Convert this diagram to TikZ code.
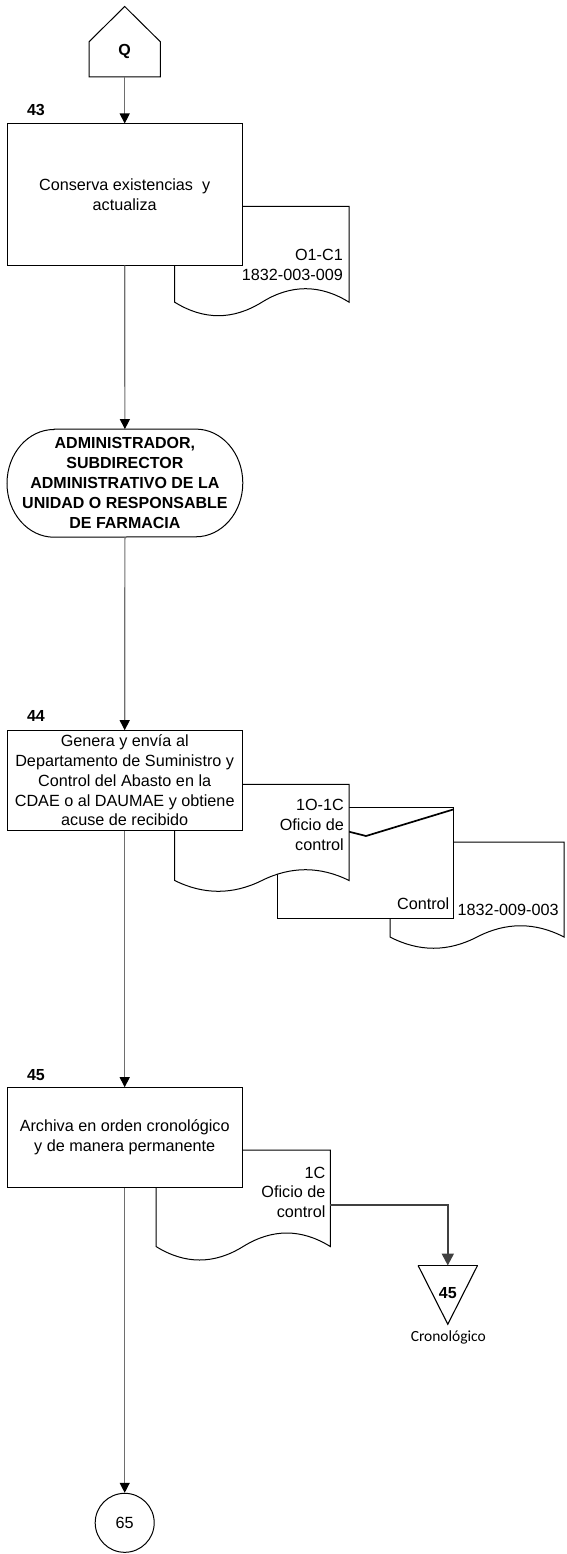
\documentclass[tikz,border=0pt]{standalone}
\usepackage{fontspec}
\setmainfont{Liberation Sans}
\newfontfamily\cronofont{Carlito}
\usetikzlibrary{arrows.meta}

% document symbol with a wavy lower edge: x0, top, x1, wave base line, wave height
\newcommand\docshape[5]{%
  \path[docline] (#1,#2) -- (#3,#2) -- (#3,#4)
    .. controls ({#3-(#3-#1)/6},{#4-0.6*#5}) and ({#1+2*(#3-#1)/3},{#4-0.6*#5}) .. ({(#1+#3)/2},#4)
    .. controls ({#1+(#3-#1)/3},{#4+0.6*#5}) and ({#1+(#3-#1)/6},{#4+0.6*#5}) .. (#1,#4) -- cycle;}

\definecolor{flowgray}{HTML}{6E6E6E}
\definecolor{darkflow}{HTML}{404040}

\tikzset{
  procbox/.style={draw=black, fill=white, line width=1pt, minimum width=234.8pt,
    align=center, inner sep=1pt},
  docline/.style={draw=black, fill=white, line width=1pt},
  doctext/.style={anchor=east, align=right, inner sep=0pt},
  stepnum/.style={font=\bfseries\fontsize{16}{19}\selectfont, inner sep=0pt},
  flow/.style={draw=flowgray, line width=1.2pt, -{Triangle[width=10pt,length=10pt,black]}},
  flowdark/.style={draw=darkflow, line width=2pt, -{Triangle[width=12pt,length=12pt,darkflow]}},
  ghost/.style={draw=none, inner sep=0pt},
}

\begin{document}
\begin{tikzpicture}[x=1pt, y=-1pt, font=\fontsize{16.2}{19.8}\selectfont]
\useasboundingbox (0,0) rectangle (566,1554);

% off-page connector Q
\node[ghost, minimum width=70.8pt, minimum height=70pt] (q) at (124.7,41.7) {};
\draw[line width=1pt, fill=white] (q.south west) -- (q.south east) -- (q.east) -- (q.north) -- (q.west) -- cycle;
\node[font=\bfseries\fontsize{16}{19}\selectfont, inner sep=0pt] (qtxt) at (124.7,51) {Q};

% step 43
\node[stepnum] (n43) at (36,110) {43};
\docshape{174.7}{206.3}{349.1}{302.2}{30}
\node[doctext] (d43) at (343,265) {O1-C1\\1832-003-009};
\node[procbox, minimum height=141pt] (p43) at (124.7,194.5) {Conserva existencias\ \ y\\actualiza};

% responsible area
\node[ghost, minimum width=235.4pt, minimum height=107.7pt, align=center,
      font=\bfseries\fontsize{16}{19.85}\selectfont] (resp) at (124.9,483.15)
  {ADMINISTRADOR,\\SUBDIRECTOR\\ADMINISTRATIVO DE LA\\UNIDAD O RESPONSABLE\\DE FARMACIA};
\draw[line width=1pt] ([xshift=47pt]resp.north west) -- ([xshift=-47pt]resp.north east)
  arc[start angle=-90, end angle=90, x radius=47, y radius=53.85]
  -- ([xshift=47pt]resp.south west)
  arc[start angle=90, end angle=270, x radius=47, y radius=53.85] -- cycle;

% step 44 with its documents
\node[stepnum] (n44) at (36,716) {44};
\docshape{390}{842}{564}{937}{25}
\node[doctext] (d44c) at (558.8,910) {1832-009-003};
\path[docline] (277.3,807.3) rectangle (453.8,918.3);
\node[doctext] (d44b) at (449.5,904) {Control};
\draw[line width=1.7pt] (349.1,831.7) -- (366,836) -- (453.8,809.3);
\docshape{174.7}{784.3}{349.1}{880.5}{24}
\node[doctext] (d44a) at (344,825) {1O-1C\\Oficio de\\control};
\node[procbox, minimum height=99.3pt] (p44) at (124.7,780.35)
  {Genera y envía al\\Departamento de Suministro y\\Control del Abasto en la\\CDAE o al DAUMAE y obtiene\\acuse de recibido};

% step 45 with its document
\node[stepnum] (n45) at (36,1075) {45};
\docshape{156}{1150}{330.3}{1246.5}{30}
\node[doctext] (d45) at (325.6,1192.3) {1C\\Oficio de\\control};
\coordinate (d45out) at (330.3,1205);
\node[procbox, minimum height=99.6pt] (p45) at (124.7,1137.5)
  {Archiva en orden cronológico\\y de manera permanente};

% chronological file
\node[ghost, minimum width=59pt, minimum height=58.3pt] (arch) at (447.8,1294.85) {};
\draw[line width=1.1pt] (arch.north east) -- (arch.south) -- (arch.north west);
\draw[line width=1.8pt] (arch.north west) -- (arch.north east);
\node[font=\bfseries\fontsize{16}{19}\selectfont, inner sep=0pt] (archnum) at (447.8,1293.3) {45};
\node[font=\cronofont\fontsize{15.5}{18}\selectfont, inner sep=0pt] (archlab) at (448.3,1337) {Cronológico};

% connector to step 65
\node[draw, circle, line width=1pt, minimum size=59pt, inner sep=0pt] (c65) at (124.7,1522.8) {65};

% flow lines
\draw[flow] (q.south) -- (p43.north);
\draw[flow] (p43.south) -- (resp.north);
\draw[flow] (resp.south) -- (p44.north);
\draw[flow] (p44.south) -- (p45.north);
\draw[flow] (p45.south) -- (c65.north);
\draw[flowdark] (d45out) -| (arch.north);
\end{tikzpicture}
\end{document}
